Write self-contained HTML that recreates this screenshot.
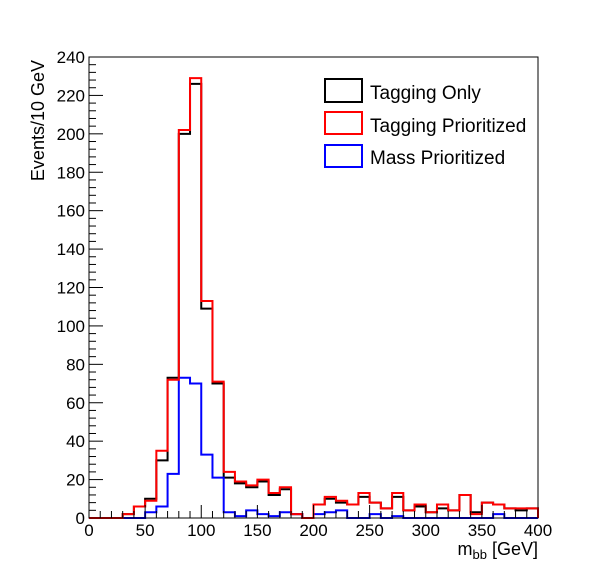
<!DOCTYPE html>
<html><head><meta charset="utf-8"><style>
body{margin:0;background:#fff;}
svg text{font-family:"Liberation Sans",sans-serif;}
</style></head><body>
<svg id="chart" width="598" height="576" xmlns="http://www.w3.org/2000/svg">
<rect x="0" y="0" width="598" height="576" fill="#fff"/>
<g id="hists"></g>
<g id="axes"></g>
<rect x="89" y="57" width="449" height="461" fill="none" stroke="#000" stroke-width="1"/>
<text x="38" y="60" font-size="18" text-anchor="end" transform="rotate(-90 38 60)" dy="6">Events/10 GeV</text>
<text x="538" y="555" font-size="18" text-anchor="end">m<tspan font-size="13" dy="4">bb</tspan><tspan dy="-4"> [GeV]</tspan></text>
<g>
<rect x="325" y="79" width="37" height="23" fill="none" stroke="#000" stroke-width="2"/>
<text x="370" y="99" font-size="19">Tagging Only</text>
<rect x="325" y="112" width="37" height="22" fill="none" stroke="#f00" stroke-width="2"/>
<text x="370" y="132" font-size="19">Tagging Prioritized</text>
<rect x="325" y="145" width="37" height="22" fill="none" stroke="#00f" stroke-width="2"/>
<text x="370" y="164" font-size="19">Mass Prioritized</text>
</g>
</svg>
<script>
const binEdgesStart = 0;
const binWidth = 10;
const taggingOnly = [0,0,0,2,6,10,30,73,200,226,109,70,21,18,16,19,12,15,2,0,7,10,8,7,11,8,5,11,4,6,3,5,4,12,3,8,7,5,4,5];
const taggingPrioritized = [0,0,0,2,6,9,35,72,202,229,113,71,24,19,17,20,13,16,2,0,7,11,9,7,13,8,5,13,4,7,3,7,4,12,2,8,7,5,5,5];
const massPrioritized = [0,0,0,0,0,3,6,23,73,70,33,21,3,1,4,2,1,3,2,0,2,3,4,0,0,2,0,1,0,0,0,0,0,0,0,0,2,0,0,0];
const xTicks = [0,50,100,150,200,250,300,350,400];
const yTicks = [0,20,40,60,80,100,120,140,160,180,200,220,240];

const X0=89,X1=538,Y0=518,Y1=57,XMAX=400,YMAX=240;
const sx=v=>X0+(X1-X0)*v/XMAX;
const sy=v=>Y0-(Y0-Y1)*v/YMAX;
const NS="http://www.w3.org/2000/svg";
function mk(t,a){const e=document.createElementNS(NS,t);for(const k in a)e.setAttribute(k,a[k]);return e;}

const hg=document.getElementById('hists');
function drawHist(vals,color,name){
  let d="M"+sx(binEdgesStart)+","+sy(0);
  vals.forEach((v,i)=>{const a=binEdgesStart+i*binWidth;d+=" L"+sx(a)+","+sy(v)+" L"+sx(a+binWidth)+","+sy(v);});
  d+=" L"+sx(binEdgesStart+vals.length*binWidth)+","+sy(0);
  const p=mk('path',{d:d,fill:'none',stroke:color,'stroke-width':2});
  
  
  hg.appendChild(p);
}
drawHist(taggingOnly,'#000','hist-tagging-only');
drawHist(massPrioritized,'#00f','hist-mass-prioritized');
drawHist(taggingPrioritized,'#f00','hist-tagging-prioritized');

const ax=document.getElementById('axes');
for(let v=0;v<=XMAX;v+=10){
  const major=v%50===0;
  const l=mk('line',{x1:sx(v),x2:sx(v),y1:Y0,y2:Y0-(major?13:7),stroke:'#000','stroke-width':1});
  
  
  ax.appendChild(l);
}
xTicks.forEach(v=>{
  const t=mk('text',{x:sx(v),y:536,'font-size':17,'text-anchor':'middle'});
  t.textContent=v;
  
  
  ax.appendChild(t);
});
for(let v=0;v<=YMAX;v+=4){
  const major=v%20===0;
  const l=mk('line',{x1:X0,x2:X0+(major?14:7),y1:sy(v),y2:sy(v),stroke:'#000','stroke-width':1});
  
  
  ax.appendChild(l);
}
yTicks.forEach(v=>{
  const t=mk('text',{x:85,y:sy(v)+6,'font-size':17,'text-anchor':'end'});
  t.textContent=v;
  
  
  ax.appendChild(t);
});
</script>
</body></html>
